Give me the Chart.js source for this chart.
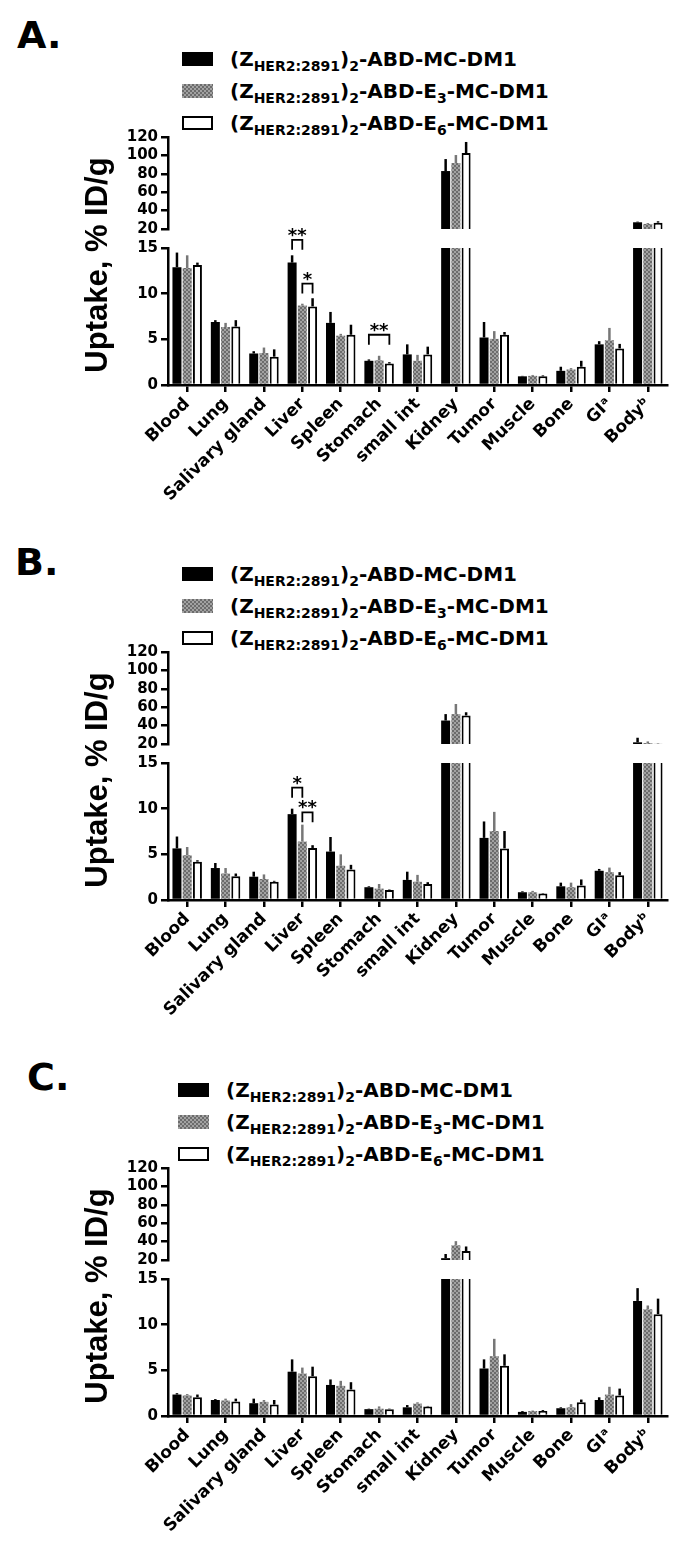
<!DOCTYPE html>
<html>
<head>
<meta charset="utf-8">
<script src="https://cdn.jsdelivr.net/npm/chart.js@4.4.1/dist/chart.umd.min.js"></script>
<style>
  body { margin: 0; background: #fff; }
  #page { position: relative; width: 693px; height: 1545px; overflow: hidden;
          font-family: "DejaVu Sans"; font-weight: bold; color: #000; }
  .letter { position: absolute; font-size: 38px; line-height: 38px; }
  .leg { position: absolute; height: 26px; display: flex; align-items: center;
         font-size: 20px; line-height: 26px; white-space: nowrap; }
  .sw { width: 31px; height: 14px; box-sizing: border-box; margin-right: 17px; flex: none; }
  sub { font-size: 14px; vertical-align: -5px; line-height: 0; }
  canvas { position: absolute; left: 0; }
</style>
</head>
<body>
<div id="page"></div>
<script>
const categories = ['Blood', 'Lung', 'Salivary gland', 'Liver', 'Spleen', 'Stomach', 'small int',
  'Kidney', 'Tumor', 'Muscle', 'Bone', 'GI\u1d43', 'Body\u1d47'];
const seriesLabels = [
  '(Z<sub>HER2:2891</sub>)<sub>2</sub>-ABD-MC-DM1',
  '(Z<sub>HER2:2891</sub>)<sub>2</sub>-ABD-E<sub>3</sub>-MC-DM1',
  '(Z<sub>HER2:2891</sub>)<sub>2</sub>-ABD-E<sub>6</sub>-MC-DM1'
];
const lowTicks = [0, 15, 5];     // min, max, step
const highTicks = [20, 120, 20];

// panel A
const aBlack   = [12.9, 6.9, 3.45, 13.4, 6.8, 2.65, 3.35, 83, 5.2, 0.95, 1.55, 4.45, 27.3];
const aBlackSd = [1.6, 0.2, 0.25, 0.8, 1.2, 0.15, 1.1, 13, 1.7, 0.05, 0.45, 0.35, 0.7];
const aGray    = [12.8, 6.35, 3.5, 8.7, 5.4, 2.7, 2.65, 91.7, 5.05, 1.0, 1.7, 4.9, 25.5];
const aGraySd  = [1.4, 0.45, 0.6, 0.2, 0.2, 0.5, 0.65, 8.7, 0.85, 0.1, 0.15, 1.35, 1.0];
const aWhite   = [13.15, 6.4, 3.1, 8.6, 5.5, 2.35, 3.35, 102.6, 5.5, 0.95, 2.0, 4.0, 26.9];
const aWhiteSd = [0.25, 0.7, 0.8, 0.9, 1.1, 0.15, 0.85, 12, 0.3, 0.1, 0.65, 0.5, 1.5];
const aBrackets = [
  { cat: 3, from: 0, to: 1, top: 15.9, label: '**' },
  { cat: 3, from: 1, to: 2, top: 11.1, label: '*' },
  { cat: 5, from: 0, to: 2, top: 5.5, label: '**' }
];

// panel B
const bBlack   = [5.65, 3.5, 2.55, 9.4, 5.3, 1.4, 2.2, 45.5, 6.8, 0.85, 1.5, 3.2, 21.8];
const bBlackSd = [1.3, 0.55, 0.55, 0.6, 1.6, 0.1, 0.9, 7, 1.8, 0.1, 0.4, 0.2, 5];
const bGray    = [4.9, 2.9, 2.3, 6.4, 3.75, 1.25, 2.0, 52.5, 7.55, 0.85, 1.4, 3.05, 21];
const bGraySd  = [0.9, 0.6, 0.5, 1.85, 1.25, 0.5, 0.75, 11, 2.1, 0.15, 0.5, 0.5, 1.8];
const bWhite   = [4.2, 2.6, 2.0, 5.7, 3.35, 1.1, 1.75, 51, 5.65, 0.7, 1.6, 2.7, 20.4];
const bWhiteSd = [0.15, 0.3, 0.1, 0.3, 0.5, 0.05, 0.2, 3.5, 1.9, 0.05, 0.65, 0.35, 0.3];
const bBrackets = [
  { cat: 3, from: 0, to: 1, top: 12.3, label: '*' },
  { cat: 3, from: 1, to: 2, top: 9.6, label: '**' }
];

// panel C
const cBlack   = [2.35, 1.75, 1.4, 4.85, 3.4, 0.75, 0.95, 22, 5.2, 0.45, 0.85, 1.75, 12.6];
const cBlackSd = [0.15, 0.1, 0.5, 1.35, 0.6, 0.05, 0.25, 4.5, 1.0, 0.1, 0.1, 0.3, 1.4];
const cGray    = [2.25, 1.7, 1.55, 4.65, 3.3, 0.8, 1.35, 36, 6.55, 0.55, 0.95, 2.35, 11.7];
const cGraySd  = [0.15, 0.2, 0.2, 0.65, 0.55, 0.25, 0.15, 4.5, 1.9, 0.05, 0.35, 0.85, 0.4];
const cWhite   = [2.05, 1.6, 1.25, 4.35, 2.9, 0.75, 1.05, 29.7, 5.5, 0.55, 1.5, 2.25, 11.15];
const cWhiteSd = [0.3, 0.3, 0.5, 1.05, 0.8, 0.05, 0.05, 5, 1.25, 0.1, 0.3, 0.75, 1.7];

const panels = [
  { letter: 'A.', top: 137, letterPos: [17, 16], legendX: 182,
    means: [aBlack, aGray, aWhite], sds: [aBlackSd, aGraySd, aWhiteSd], brackets: aBrackets },
  { letter: 'B.', top: 652, letterPos: [15, 543], legendX: 182,
    means: [bBlack, bGray, bWhite], sds: [bBlackSd, bGraySd, bWhiteSd], brackets: bBrackets },
  { letter: 'C.', top: 1168, letterPos: [27, 1058], legendX: 178,
    means: [cBlack, cGray, cWhite], sds: [cBlackSd, cGraySd, cWhiteSd], brackets: [] }
];

const page = document.getElementById('page');

// checkered grey fill
const pc = document.createElement('canvas');
pc.width = 4; pc.height = 4;
const pctx = pc.getContext('2d');
pctx.fillStyle = '#6c6c6c'; pctx.fillRect(0, 0, 4, 4);
pctx.fillStyle = '#a2a2a2'; pctx.fillRect(0, 0, 2, 2); pctx.fillRect(2, 2, 2, 2);

const errorBars = {
  id: 'errorBars',
  afterDatasetsDraw(chart, args, opts) {
    const ctx = chart.ctx;
    ctx.save();
    ctx.lineWidth = 2.5;
    opts.means.forEach((arr, s) => {
      const meta = chart.getDatasetMeta(s);
      ctx.strokeStyle = opts.colors[s];
      arr.forEach((v, i) => {
        const sc = v > highTicks[0] ? chart.scales.yHigh : chart.scales.yLow;
        const x = meta.data[i].x;
        ctx.beginPath();
        ctx.moveTo(x, sc.getPixelForValue(v));
        ctx.lineTo(x, sc.getPixelForValue(v + opts.sds[s][i]));
        ctx.stroke();
      });
    });
    ctx.restore();
  }
};

const brackets = {
  id: 'brackets',
  afterDatasetsDraw(chart, args, opts) {
    const ctx = chart.ctx;
    const y = chart.scales.yLow;
    ctx.save();
    ctx.strokeStyle = '#000';
    ctx.fillStyle = '#000';
    ctx.lineWidth = 1.8;
    ctx.font = 'bold 18px "DejaVu Sans"';
    ctx.textAlign = 'center';
    ctx.textBaseline = 'alphabetic';
    opts.list.forEach(b => {
      const x1 = chart.getDatasetMeta(b.from).data[b.cat].x;
      const x2 = chart.getDatasetMeta(b.to).data[b.cat].x;
      const yt = y.getPixelForValue(b.top);
      ctx.beginPath();
      ctx.moveTo(x1, yt + 10);
      ctx.lineTo(x1, yt);
      ctx.lineTo(x2, yt);
      ctx.lineTo(x2, yt + 10);
      ctx.stroke();
      ctx.fillText(b.label, (x1 + x2) / 2, yt + 1);
    });
    ctx.restore();
  }
};

const yTitle = {
  id: 'yTitle',
  afterDraw(chart) {
    const ctx = chart.ctx;
    ctx.save();
    ctx.translate(107, chart.chartArea.top + 128);
    ctx.rotate(-Math.PI / 2);
    ctx.font = 'bold 31px "Liberation Sans", Arial';
    ctx.fillStyle = '#000';
    ctx.textAlign = 'center';
    ctx.textBaseline = 'alphabetic';
    ctx.fillText('Uptake, % ID/g', 0, 0);
    ctx.restore();
  }
};

const tickFont = { family: 'DejaVu Sans', weight: 'bold', size: 15 };
function yAxis(range, stackWeight, weight) {
  return {
    type: 'linear', position: 'left', stack: 'y', stackWeight: stackWeight, weight: weight,
    min: range[0], max: range[1], stacked: false,
    ticks: { stepSize: range[2], autoSkip: false, color: '#000', font: tickFont, padding: 3 },
    grid: { drawOnChartArea: false, drawTicks: true, tickLength: 7, color: '#000', lineWidth: 2.5 },
    border: { display: true, color: '#000', width: 2.5 },
    afterFit: s => { s.width = 60; }
  };
}

panels.forEach(p => {
  // panel letter and legend
  const lt = document.createElement('div');
  lt.className = 'letter';
  lt.textContent = p.letter;
  lt.style.left = p.letterPos[0] + 'px';
  lt.style.top = p.letterPos[1] + 'px';
  page.appendChild(lt);
  const swatchStyles = ['background:#000',
    'background-image:url(' + pc.toDataURL() + ')',
    'background:#fff;border:2px solid #000'];
  seriesLabels.forEach((lab, s) => {
    const row = document.createElement('div');
    row.className = 'leg';
    row.style.left = p.legendX + 'px';
    row.style.top = (p.top - 78 + s * 32 - 13) + 'px';
    row.innerHTML = '<span class="sw" style="' + swatchStyles[s] + '"></span><span>' + lab + '</span>';
    page.appendChild(row);
  });

  const cv = document.createElement('canvas');
  cv.width = 693; cv.height = 390;
  cv.style.top = (p.top - 12) + 'px';
  page.appendChild(cv);
  const ctx = cv.getContext('2d');
  const fills = ['#000', ctx.createPattern(pc, 'repeat'), '#fff'];

  const datasets = [];
  p.means.forEach((arr, s) => {
    datasets.push({
      data: arr.map(v => Math.min(v, lowTicks[1])),
      yAxisID: 'yLow', stack: 'g' + s,
      backgroundColor: fills[s], borderColor: '#000',
      borderWidth: s === 2 ? (c => arr[c.dataIndex] > lowTicks[1] ? { left: 2, right: 2, top: 0, bottom: 0 } : 2) : 0
    });
  });
  p.means.forEach((arr, s) => {
    datasets.push({
      data: arr.map(v => v > highTicks[0] ? v : null),
      yAxisID: 'yHigh', stack: 'g' + s,
      backgroundColor: fills[s], borderColor: '#000',
      borderWidth: s === 2 ? 2 : 0
    });
  });

  new Chart(ctx, {
    type: 'bar',
    data: { labels: categories, datasets: datasets },
    options: {
      responsive: false,
      animation: false,
      devicePixelRatio: 1,
      categoryPercentage: 0.8,
      barPercentage: 0.88,
      layout: { padding: { top: 12, left: 108, right: 26, bottom: 0 } },
      plugins: {
        legend: { display: false },
        tooltip: { enabled: false },
        errorBars: { means: p.means, sds: p.sds, colors: ['#000', '#777', '#000'] },
        brackets: { list: p.brackets }
      },
      scales: {
        x: {
          stacked: true, offset: true,
          grid: { offset: false, drawOnChartArea: false, drawTicks: true, tickLength: 7, color: '#000', lineWidth: 2.5 },
          border: { color: '#000', width: 2.5 },
          ticks: { color: '#000', font: { family: 'DejaVu Sans', weight: 'bold', size: 17 },
                   minRotation: 45, maxRotation: 45, padding: 2, autoSkip: false },
          afterFit: s => { s.height = 130; }
        },
        yHigh: yAxis(highTicks, 92, 3),
        yGap: {
          type: 'linear', position: 'left', stack: 'y', stackWeight: 19, weight: 2,
          ticks: { display: false }, grid: { display: false }, border: { display: false },
          afterFit: s => { s.width = 60; }
        },
        yLow: yAxis(lowTicks, 137, 1)
      }
    },
    plugins: [errorBars, brackets, yTitle]
  });
});
</script>
</body>
</html>
